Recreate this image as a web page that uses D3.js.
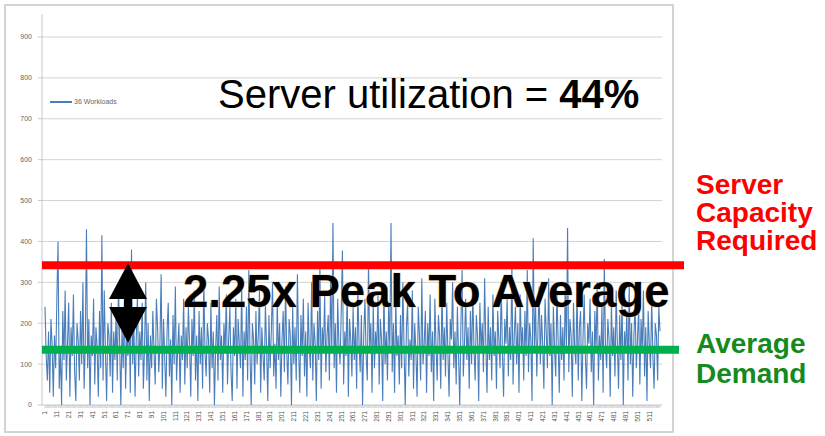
<!DOCTYPE html>
<html>
<head>
<meta charset="utf-8">
<script src="https://cdn.jsdelivr.net/npm/d3@7"></script>
<style>
  body { margin: 0; background: #fff; }
  svg { display: block; font-family: "Liberation Sans", Arial, sans-serif; }
</style>
</head>
<body>
<svg width="825" height="436"></svg>
<script>
// hourly demand of 36 workloads
var demand = [
  240, 120, 60, 180, 30, 210, 150, 20, 170, 90, 260, 400, 40, 130, 0, 230, 110, 280, 60, 150,
  250, 20, 190, 120, 270, 80, 10, 200, 160, 60, 230, 100, 300, 40, 150, 430, 90, 210, 0, 170,
  120, 260, 50, 190, 140, 20, 230, 90, 415, 60, 280, 130, 10, 200, 170, 70, 250, 30, 180, 110,
  220, 60, 300, 150, 0, 190, 90, 260, 40, 170, 120, 240, 30, 380, 100, 200, 20, 160, 270, 70,
  180, 110, 250, 40, 140, 300, 60, 200, 10, 170, 90, 230, 130, 50, 260, 190, 80, 150, 320, 40,
  210, 120, 20, 180, 250, 70, 160, 0, 220, 100, 290, 60, 140, 200, 30, 170, 110, 260, 50, 190,
  90, 240, 150, 20, 210, 120, 280, 60, 170, 10, 230, 100, 190, 40, 310, 130, 70, 200, 160, 30,
  250, 90, 180, 0, 140, 220, 60, 290, 110, 170, 30, 200, 130, 270, 50, 160, 240, 80, 10, 190,
  120, 260, 40, 210, 150, 90, 300, 20, 180, 110, 240, 60, 330, 130, 0, 200, 160, 50, 230, 100,
  170, 280, 30, 190, 120, 60, 250, 140, 10, 220, 90, 180, 300, 70, 150, 40, 260, 110, 200, 20,
  160, 230, 80, 290, 130, 50, 210, 170, 0, 240, 100, 190, 60, 320, 140, 30, 220, 120, 260, 70,
  180, 20, 250, 140, 90, 300, 60, 200, 150, 10, 230, 110, 340, 40, 190, 130, 270, 80, 170, 220,
  60, 310, 130, 445, 90, 200, 30, 260, 150, 100, 230, 378, 50, 180, 120, 280, 20, 210, 160, 70,
  240, 110, 190, 40, 300, 150, 80, 220, 0, 170, 260, 120, 60, 350, 140, 200, 30, 250, 90, 180,
  130, 270, 50, 210, 160, 10, 290, 100, 180, 60, 240, 140, 445, 80, 200, 30, 260, 120, 170, 50,
  220, 90, 300, 140, 0, 190, 250, 70, 160, 110, 280, 40, 200, 130, 20, 240, 170, 60, 310, 100,
  150, 230, 30, 200, 120, 270, 80, 180, 10, 260, 140, 60, 220, 170, 40, 290, 110, 190, 70, 250,
  130, 20, 210, 160, 300, 90, 180, 50, 240, 120, 0, 200, 330, 70, 150, 260, 110, 190, 40, 230,
  100, 280, 140, 60, 220, 170, 10, 250, 130, 200, 80, 310, 150, 30, 240, 110, 190, 60, 270, 120,
  180, 40, 230, 160, 90, 300, 130, 20, 210, 150, 260, 70, 190, 110, 350, 50, 170, 240, 100, 200,
  30, 270, 140, 190, 60, 230, 120, 330, 80, 200, 160, 10, 408, 130, 250, 70, 180, 290, 100, 220,
  150, 40, 260, 180, 90, 310, 120, 200, 0, 240, 140, 70, 280, 160, 30, 220, 110, 190, 60, 300,
  130, 433, 80, 210, 170, 20, 250, 140, 100, 290, 60, 190, 230, 10, 160, 270, 120, 40, 200, 150,
  260, 80, 180, 0, 230, 130, 300, 60, 170, 110, 240, 30, 357, 140, 90, 210, 160, 20, 250, 120,
  190, 70, 280, 150, 40, 220, 110, 260, 0, 180, 130, 230, 60, 300, 100, 200, 20, 170, 250, 90,
  160, 240, 50, 210, 130, 280, 70, 190, 10, 230, 150, 90, 260, 120, 40, 200, 170, 60, 240, 180
];
var hours = demand.map(function(d, i) { return i + 1; });
var xLabels = hours.filter(function(h) { return h % 10 === 1; });
var yTicks = [0, 100, 200, 300, 400, 500, 600, 700, 800, 900];
var seriesName = "36 Workloads";
var capacityLevel = 342;
var averageLevel = 135;

var svg = d3.select("svg");

// chart frame
svg.append("rect")
    .attr("x", 5).attr("y", 5)
    .attr("width", 668).attr("height", 427)
    .attr("fill", "#fff")
    .attr("stroke", "#d4d4d4")
    .attr("stroke-width", 2);

var x = d3.scalePoint().domain(hours).range([45, 660]);
var y = d3.scaleLinear().domain([0, 900]).range([405, 37]);

// gridlines
svg.selectAll(".grid")
    .data(yTicks.slice(1))
    .enter()
  .append("line")
    .attr("x1", 42).attr("x2", 662)
    .attr("y1", d => y(d)).attr("y2", d => y(d))
    .attr("stroke", "#d3d3d3")
    .attr("stroke-width", 1);

// y axis
svg.append("line")
    .attr("x1", 42).attr("x2", 42)
    .attr("y1", 14).attr("y2", 405)
    .attr("stroke", "#c8c8c8");
svg.selectAll(".ytick")
    .data(yTicks)
    .enter()
  .append("line")
    .attr("x1", 38).attr("x2", 42)
    .attr("y1", d => y(d)).attr("y2", d => y(d))
    .attr("stroke", "#c8c8c8");
svg.selectAll(".ylab")
    .data(yTicks)
    .enter()
  .append("text")
    .attr("x", 32)
    .attr("y", d => y(d))
    .attr("dy", "0.35em")
    .attr("text-anchor", "end")
    .attr("font-size", 7)
    .attr("fill", "#666")
    .text(d => d);

// x axis
svg.append("line")
    .attr("x1", 42).attr("x2", 662)
    .attr("y1", 405).attr("y2", 405)
    .attr("stroke", "#c8c8c8");
svg.selectAll(".xtick")
    .data(hours)
    .enter()
  .append("line")
    .attr("x1", d => x(d)).attr("x2", d => x(d))
    .attr("y1", 405).attr("y2", 408)
    .attr("stroke", "#bdbdbd")
    .attr("stroke-width", 0.6);
svg.selectAll(".xlab")
    .data(xLabels)
    .enter()
  .append("text")
    .attr("transform", d => "translate(" + x(d) + ",411) rotate(-90)")
    .attr("dy", "0.35em")
    .attr("text-anchor", "end")
    .attr("font-size", 6.5)
    .attr("fill", "#555")
    .text(d => d);

// series
var line = d3.line()
    .x((d, i) => x(hours[i]))
    .y(d => y(d));
svg.append("path")
    .datum(demand)
    .attr("d", line)
    .attr("fill", "none")
    .attr("stroke", "#4a7ebb")
    .attr("stroke-width", 1.1);

// legend
svg.append("line")
    .attr("x1", 50).attr("x2", 72)
    .attr("y1", 102).attr("y2", 102)
    .attr("stroke", "#4a7ebb")
    .attr("stroke-width", 2);
svg.append("text")
    .attr("x", 74).attr("y", 102)
    .attr("dy", "0.35em")
    .attr("font-size", 7)
    .attr("fill", "#666")
    .text(seriesName);

// ========== OVERLAYS ============= //

svg.append("line")
    .attr("x1", 42).attr("x2", 684)
    .attr("y1", y(capacityLevel)).attr("y2", y(capacityLevel))
    .attr("stroke", "#ff0000")
    .attr("stroke-width", 8);
svg.append("line")
    .attr("x1", 42).attr("x2", 679)
    .attr("y1", y(averageLevel)).attr("y2", y(averageLevel))
    .attr("stroke", "#00b050")
    .attr("stroke-width", 8);

// double arrow between the two levels
var arrowX = 128,
    arrowTop = y(capacityLevel) - 2,
    arrowBot = y(averageLevel) - 7,
    arrowMid = (arrowTop + arrowBot) / 2;
svg.append("path")
    .attr("d", "M" + arrowX + "," + arrowTop +
               "L" + (arrowX + 19) + "," + (arrowMid - 4) +
               "L" + (arrowX - 19) + "," + (arrowMid - 4) + "Z")
    .attr("fill", "#000");
svg.append("path")
    .attr("d", "M" + arrowX + "," + arrowBot +
               "L" + (arrowX + 19) + "," + (arrowMid + 4) +
               "L" + (arrowX - 19) + "," + (arrowMid + 4) + "Z")
    .attr("fill", "#000");
svg.append("rect")
    .attr("x", arrowX - 4).attr("y", arrowMid - 5)
    .attr("width", 8).attr("height", 10)
    .attr("fill", "#000");

var title = svg.append("text")
    .attr("x", 218).attr("y", 108)
    .attr("font-size", 40)
    .attr("fill", "#000");
title.append("tspan").text("Server utilization = ");
title.append("tspan").attr("font-weight", "bold").text("44%");

svg.append("text")
    .attr("x", 183).attr("y", 307)
    .attr("font-size", 45.5)
    .attr("font-weight", "bold")
    .attr("fill", "#000")
    .attr("stroke", "#f0b878")
    .attr("stroke-width", 1.2)
    .attr("stroke-opacity", 0.6)
    .attr("paint-order", "stroke")
    .text("2.25x Peak To Average");

var red = svg.append("text")
    .attr("font-size", 28)
    .attr("font-weight", "bold")
    .attr("fill", "#ff0000");
["Server", "Capacity", "Required"].forEach(function(t, i) {
  red.append("tspan").attr("x", 696).attr("y", 194 + i * 28).text(t);
});

var green = svg.append("text")
    .attr("font-size", 28)
    .attr("font-weight", "bold")
    .attr("fill", "#158a1e");
["Average", "Demand"].forEach(function(t, i) {
  green.append("tspan").attr("x", 696).attr("y", 353 + i * 30).text(t);
});
</script>
</body>
</html>
